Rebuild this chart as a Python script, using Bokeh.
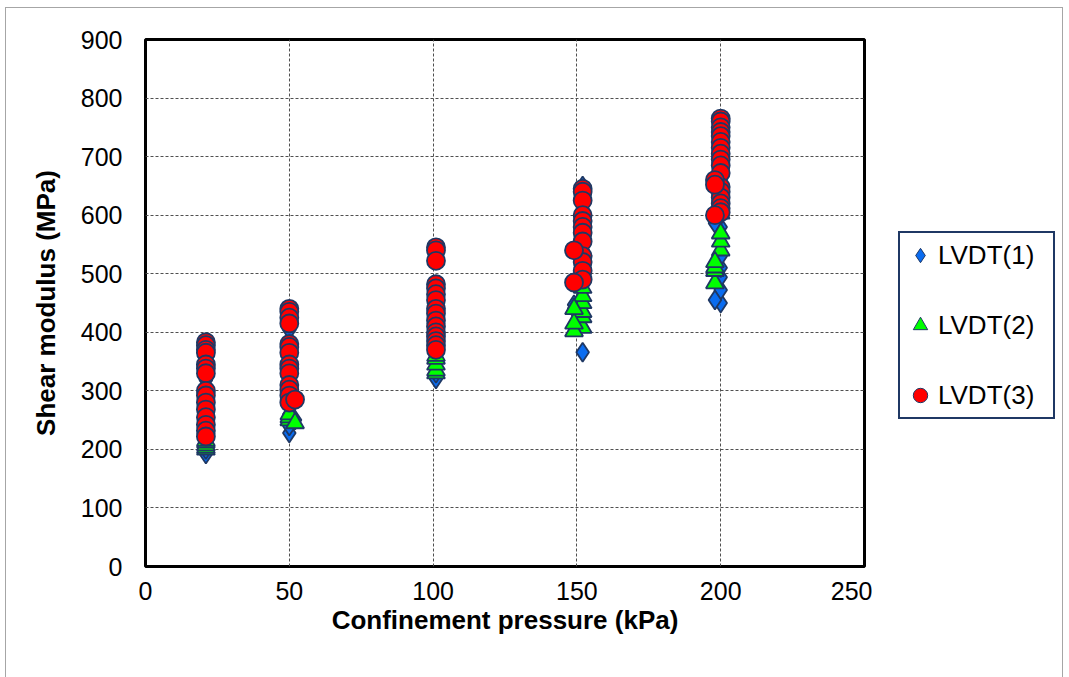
from bokeh.plotting import figure
from bokeh.layouts import row
from bokeh.models import Legend, LegendItem, Range1d, FixedTicker
from bokeh.embed import file_html
from bokeh.resources import INLINE

# LVDT(1)
x1 = [21]*12 + [50]*9 + [52] + [101]*9 + [152]*8 + [149]*2 + [200]*10 + [198]*2
y1 = [192, 200, 210, 230, 250, 268, 290, 318, 330, 350, 370, 380,
      228, 240, 260, 290, 320, 350, 380, 404, 420, 250,
      320, 330, 340, 350, 360, 380, 400, 430, 460,
      366, 455, 470, 500, 540, 580, 620, 650, 440, 447,
      450, 472, 494, 510, 530, 552, 565, 580, 600, 620, 455, 586]
# LVDT(2)
x2 = [21]*5 + [50]*3 + [52] + [101]*5 + [152]*6 + [149]*3 + [200]*4 + [198]*4
y2 = [200, 203, 207, 212, 215,
      250, 255, 260, 245,
      330, 335, 345, 355, 360,
      408, 426, 435, 450, 462, 476, 402, 415, 440,
      540, 555, 569, 603, 484, 505, 511, 520]
# LVDT(3)
x3 = [21]*15 + [50]*14 + [52] + [101]*16 + [152]*12 + [149]*2 + [200]*17 + [198]*3
y3 = [383, 378, 370, 365, 345, 338, 330, 300, 292, 280, 268, 255, 242, 232, 222,
      440, 435, 425, 415, 380, 375, 365, 345, 338, 330, 310, 302, 292, 280, 285,
      545, 540, 522, 482, 475, 465, 455, 440, 432, 420, 410, 400, 393, 385, 378, 370,
      645, 640, 625, 600, 590, 580, 570, 555, 530, 520, 505, 490, 540, 485,
      765, 760, 750, 742, 735, 725, 715, 705, 695, 685, 672, 648, 640, 630, 620, 612, 605,
      660, 652, 600]

x_ticks = [0, 50, 100, 150, 200, 250]
y_ticks = [0, 100, 200, 300, 400, 500, 600, 700, 800, 900]
labels = ["LVDT(1)", "LVDT(2)", "LVDT(3)"]

FONT = "Liberation Sans"
EDGE = "#1F3864"
COLORS = ["#0A6CF0", "#00FF00", "#FF0000"]
MARKERS = ["diamond", "triangle", "circle"]
SERIES = [(x1, y1), (x2, y2), (x3, y3)]

p = figure(width=866, height=669, output_backend="svg", toolbar_location=None,
           x_range=Range1d(0, 250), y_range=Range1d(0, 900),
           min_border_left=139, min_border_right=8, min_border_top=31, min_border_bottom=111)

p.outline_line_color = "black"
p.outline_line_width = 3
p.outline_line_alpha = 1

for ax in (p.xaxis[0], p.yaxis[0]):
    ax.axis_line_color = None
    ax.major_tick_line_color = None
    ax.minor_tick_line_color = None
    ax.major_tick_in = 0
    ax.major_tick_out = 0
    ax.minor_tick_out = 0
    ax.major_label_text_font = FONT
    ax.major_label_text_font_size = "25px"
    ax.major_label_text_color = "black"
    ax.axis_label_text_font = FONT
    ax.axis_label_text_font_size = "26px"
    ax.axis_label_text_font_style = "bold"
    ax.axis_label_text_color = "black"

p.xaxis.ticker = FixedTicker(ticks=x_ticks)
p.yaxis.ticker = FixedTicker(ticks=y_ticks)
p.xaxis.axis_label = "Confinement pressure (kPa)"
p.yaxis.axis_label = "Shear modulus (MPa)"
p.xaxis.major_label_standoff = 15
p.yaxis.major_label_standoff = 23
p.xaxis.axis_label_standoff = 2
p.yaxis.axis_label_standoff = 17

p.xgrid.ticker = FixedTicker(ticks=x_ticks)
p.ygrid.ticker = FixedTicker(ticks=y_ticks)
for g in (p.xgrid[0], p.ygrid[0]):
    g.grid_line_color = "#505050"
    g.grid_line_dash = "3 2"
    g.grid_line_width = 1

SIZES = [19, 18, 18]
for (xs, ys), mk, col, sz in zip(SERIES, MARKERS, COLORS, SIZES):
    p.scatter(xs, ys, marker=mk, size=sz, fill_color=col, line_color=EDGE, line_width=1.8)

# legend panel (separate figure so the legend is not clipped by the plot frame);
# its renderers use the same data but lie outside this panel's ranges.
lf = figure(width=190, height=669, output_backend="svg", toolbar_location=None,
            x_range=Range1d(-2, -1), y_range=Range1d(-2, -1),
            x_axis_location=None, y_axis_location=None,
            min_border_left=0, min_border_right=0, min_border_top=0, min_border_bottom=0)
lf.grid.visible = False
lf.outline_line_color = None

items = []
for (xs, ys), lab, mk, col in zip(SERIES, labels, MARKERS, COLORS):
    r = lf.scatter(xs, ys, marker=mk, fill_color=col, line_color=EDGE, line_width=1)
    items.append(LegendItem(label=lab, renderers=[r]))

legend = Legend(items=items, location=(26, 147))
legend.border_line_color = EDGE
legend.border_line_alpha = 1
legend.border_line_width = 2.5
legend.background_fill_alpha = 1
legend.label_text_font = FONT
legend.label_text_font_size = "26px"
legend.label_text_color = "black"
legend.glyph_width = 36
legend.glyph_height = 40
legend.label_width = 113
legend.label_height = 30
legend.label_standoff = 0
legend.spacing = 30
legend.padding = 2
legend.margin = 0
lf.add_layout(legend, "center")

layout = row(p, lf)
layout.margin = (8, 0, 0, 6)
layout.stylesheets = [":host { outline: 1px solid #a6a6a6; }"]

open("out.html", "w").write(file_html(layout, INLINE))
